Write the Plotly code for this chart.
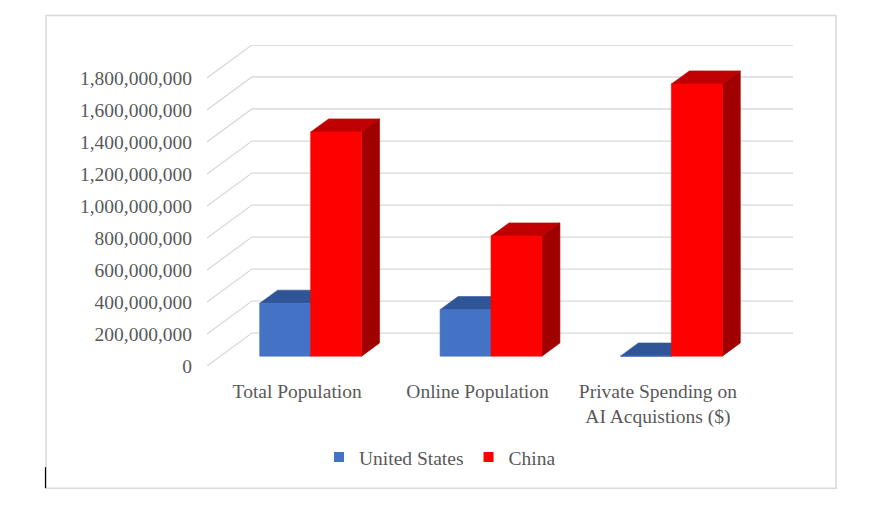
import plotly.graph_objects as go

# chart data
categories = ["Total Population", "Online Population", "Private Spending on<br>AI Acquistions ($)"]
us_values = [330000000, 290000000, 0]
china_values = [1400000000, 750000000, 1700000000]
tick_values = [0, 200000000, 400000000, 600000000, 800000000, 1000000000,
               1200000000, 1400000000, 1600000000, 1800000000]
tick_labels = [f"{v:,}" for v in tick_values]

# face colours: front, top, side
US_COLORS = ("#4472C4", "#2F5597", "#264478")
CHINA_COLORS = ("#FF0000", "#C00000", "#A00000")

# fake 3d box: full depth expressed in axis units
DEPTH_X = 0.249
DEPTH_Y = 205600000
BAR_W = 0.2825
BAR_D0 = 0.3   # bar front sits 30% into the box
BAR_D1 = 0.7

# page body has an 8px margin, so the figure is a bit smaller than the window
OFF = 8
W, H = 872 - OFF, 505 - OFF
MARGIN = dict(l=207 - OFF, r=79, t=44.6 - OFF, b=138.5)
FONT = "Liberation Serif, DejaVu Serif, serif"
TEXT = dict(family=FONT, size=19.5, color='#595959')


def shift(x, y, d):
    return x + d * DEPTH_X, y + d * DEPTH_Y


def face(points, color):
    xs = [p[0] for p in points] + [points[0][0]]
    ys = [p[1] for p in points] + [points[0][1]]
    return go.Scatter(x=xs, y=ys, mode='lines', fill='toself', fillcolor=color,
                      line=dict(color=color, width=0.6), hoverinfo='skip', showlegend=False)


def bar_traces(x0, x1, v, colors):
    front, top, side = colors
    top_pts = [shift(x0, v, BAR_D0), shift(x1, v, BAR_D0), shift(x1, v, BAR_D1), shift(x0, v, BAR_D1)]
    side_pts = [shift(x1, 0, BAR_D0), shift(x1, 0, BAR_D1), shift(x1, v, BAR_D1), shift(x1, v, BAR_D0)]
    front_pts = [shift(x0, 0, BAR_D0), shift(x1, 0, BAR_D0), shift(x1, v, BAR_D0), shift(x0, v, BAR_D0)]
    return [face(top_pts, top), face(side_pts, side), face(front_pts, front)]


def px_to_paper(px, py):
    # px, py are screen pixels of the window
    pw = W - MARGIN['l'] - MARGIN['r']
    ph = H - MARGIN['t'] - MARGIN['b']
    return (px - OFF - MARGIN['l']) / pw, (H - MARGIN['b'] - (py - OFF)) / ph


fig = go.Figure()

# side wall + back wall gridlines
for v in tick_values:
    fig.add_trace(go.Scatter(x=[-0.5, -0.5 + DEPTH_X, len(categories) - 0.5 + DEPTH_X],
                             y=[v, v + DEPTH_Y, v + DEPTH_Y],
                             mode='lines', line=dict(color='#D9D9D9', width=1.3),
                             hoverinfo='skip', showlegend=False))

# bars, back faces first so the red front covers the blue side
for i in range(len(categories)):
    for tr in bar_traces(i - BAR_W, i, us_values[i], US_COLORS):
        fig.add_trace(tr)
    for tr in bar_traces(i, i + BAR_W, china_values[i], CHINA_COLORS):
        fig.add_trace(tr)

# legend entries
fig.add_trace(go.Scatter(x=[None], y=[None], mode='markers', name='United States',
                         marker=dict(symbol='square', size=10, color=US_COLORS[0])))
fig.add_trace(go.Scatter(x=[None], y=[None], mode='markers', name='China',
                         marker=dict(symbol='square', size=10, color=CHINA_COLORS[0])))

bx0, by0 = px_to_paper(46, 489)
bx1, by1 = px_to_paper(836, 15)
lx, ly = px_to_paper(440, 458)
kx, ky0 = px_to_paper(45.5, 489)
_, ky1 = px_to_paper(45.5, 468)

fig.update_layout(
    width=W, height=H,
    margin=MARGIN,
    paper_bgcolor='white', plot_bgcolor='white',
    font=TEXT,
    xaxis=dict(range=[-0.5, len(categories) - 0.5 + DEPTH_X],
               tickvals=list(range(len(categories))), ticktext=categories,
               tickfont=TEXT,
               showgrid=False, zeroline=False, showline=False, ticks='',
               ticklabelstandoff=11, fixedrange=True),
    yaxis=dict(range=[0, tick_values[-1] + DEPTH_Y],
               tickvals=tick_values, ticktext=tick_labels,
               tickfont=TEXT,
               showgrid=False, zeroline=False, showline=False, ticks='',
               ticklabelstandoff=14, fixedrange=True),
    showlegend=True,
    legend=dict(orientation='h', x=lx, y=ly, xanchor='center', yanchor='middle',
                font=TEXT, bgcolor='rgba(0,0,0,0)'),
    shapes=[
        dict(type='rect', xref='paper', yref='paper', x0=bx0, y0=by0, x1=bx1, y1=by1,
             line=dict(color='#D9D9D9', width=1.5), layer='below'),
        dict(type='line', xref='paper', yref='paper', x0=kx, y0=ky0, x1=kx, y1=ky1,
             line=dict(color='black', width=1.2)),
    ],
)

fig.write_html("out.html")
